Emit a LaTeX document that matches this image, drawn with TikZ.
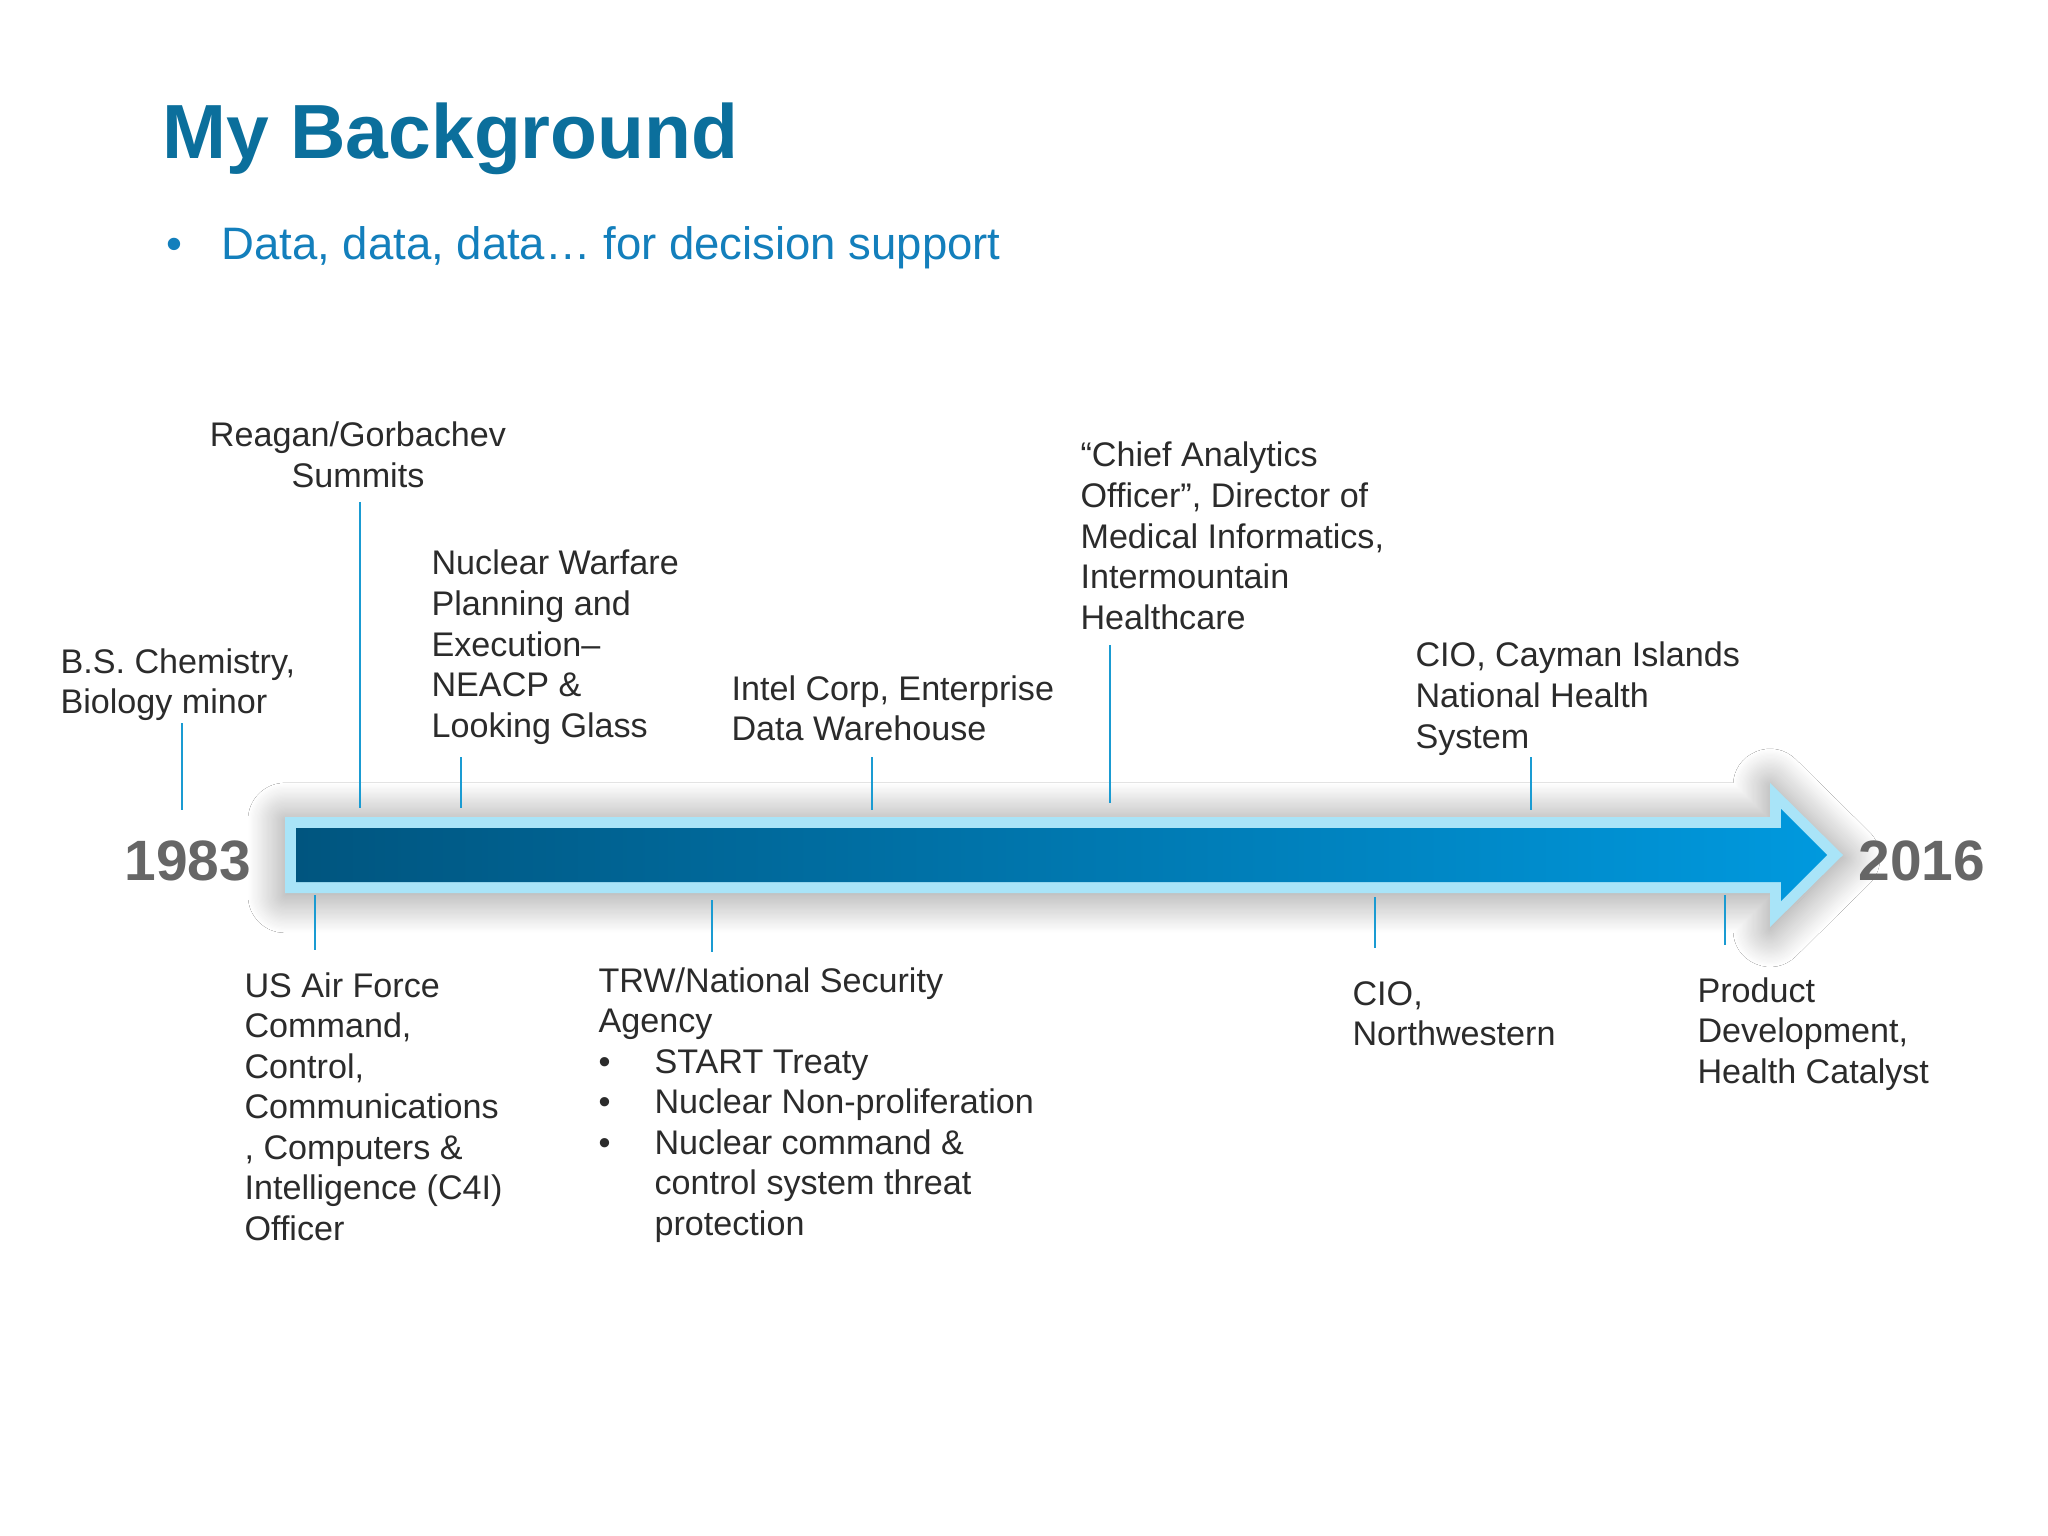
\documentclass[tikz,border=0pt]{standalone}
\usepackage{fontspec}
\setmainfont{Liberation Sans}
\usetikzlibrary{shadows.blur}
\definecolor{titleblue}{HTML}{0B6F9C}
\definecolor{subblue}{HTML}{137FBC}
\definecolor{txt}{HTML}{2B2B2B}
\definecolor{yeargray}{HTML}{666666}
\definecolor{tickblue}{HTML}{1A9BD2}
\definecolor{arrowrim}{HTML}{A9E4F8}
\definecolor{arrowdark}{HTML}{00557F}
\definecolor{arrowlight}{HTML}{0099DE}
\begin{document}
\begin{tikzpicture}[x=0.3515625pt,y=-0.3515625pt,
  evtext/.style={anchor=base west, inner sep=0pt, text=txt, font=\fontsize{12}{14.25}\selectfont},
  yeartext/.style={anchor=base west, inner sep=0pt, text=yeargray, font=\fontsize{20}{24}\selectfont\bfseries},
  tickline/.style={draw=tickblue, line width=1pt}]
\useasboundingbox[fill=white] (0,0) rectangle (2048,1536);

% title and subtitle
\node[anchor=base west, inner sep=0pt, text=titleblue, font=\fontsize{27}{32}\selectfont\bfseries] (title) at (162,159) {My Background};
\node[anchor=base west, inner sep=0pt, text=subblue, font=\fontsize{16}{19}\selectfont] (sub) at (166,260) {\makebox[19.3pt][l]{•}Data, data, data… for decision support};

% arrow
\fill[arrowrim, blur shadow={shadow xshift=0pt, shadow yshift=-1pt, shadow blur radius=13pt, shadow blur steps=30, shadow opacity=45}]
  (285,817) -- (1770,817) -- (1770,783) -- (1843,855) -- (1770,927) -- (1770,893) -- (285,893) -- cycle;
\shade[left color=arrowdark, right color=arrowlight]
  (296,828) -- (1781,828) -- (1781,809) -- (1827,855) -- (1781,901) -- (1781,882) -- (296,882) -- cycle;

% years
\node[yeartext] (y1983) at (124,880) {1983};
\node[yeartext] (y2016) at (1858,880) {2016};

% labels above
\node[evtext] (bs) at (60,673) {\begin{tabular}[t]{@{}l@{}}B.S. Chemistry,\\Biology minor\end{tabular}};
\node[evtext, anchor=base] (rg) at (358,447) {\begin{tabular}[t]{@{}c@{}}Reagan/Gorbachev\\Summits\end{tabular}};
\node[evtext] (nw) at (431,575) {\begin{tabular}[t]{@{}l@{}}Nuclear Warfare\\Planning and\\Execution–\\NEACP \&\\Looking Glass\end{tabular}};
\node[evtext] (intel) at (731,700) {\begin{tabular}[t]{@{}l@{}}Intel Corp, Enterprise\\Data Warehouse\end{tabular}};
\node[evtext] (cao) at (1080,467) {\begin{tabular}[t]{@{}l@{}}“Chief Analytics\\Officer”, Director of\\Medical Informatics,\\Intermountain\\Healthcare\end{tabular}};
\node[evtext] (cay) at (1415,667) {\begin{tabular}[t]{@{}l@{}}CIO, Cayman Islands\\National Health\\System\end{tabular}};

% labels below
\node[evtext] (usaf) at (244,997) {\begin{tabular}[t]{@{}l@{}}US Air Force\\Command,\\Control,\\Communications\\, Computers \&\\Intelligence (C4I)\\Officer\end{tabular}};
\node[evtext] (trw) at (598,992) {\begin{tabular}[t]{@{}l@{}l@{}}\multicolumn{2}{@{}l@{}}{TRW/National Security}\\\multicolumn{2}{@{}l@{}}{Agency}\\\makebox[19.7pt][l]{•}&START Treaty\\\makebox[19.7pt][l]{•}&Nuclear Non-proliferation\\\makebox[19.7pt][l]{•}&Nuclear command \&\\&control system threat\\&protection\end{tabular}};
\node[evtext] (nwu) at (1352,1005) {\begin{tabular}[t]{@{}l@{}}CIO,\\Northwestern\end{tabular}};
\node[evtext] (hc) at (1697,1002) {\begin{tabular}[t]{@{}l@{}}Product\\Development,\\Health Catalyst\end{tabular}};

% ticks
\coordinate (t1a) at (182,723);  \coordinate (t1b) at (182,810);
\coordinate (t2a) at (360,502);  \coordinate (t2b) at (360,808);
\coordinate (t3a) at (461,757);  \coordinate (t3b) at (461,808);
\coordinate (t4a) at (872,757);  \coordinate (t4b) at (872,810);
\coordinate (t5a) at (1110,645); \coordinate (t5b) at (1110,803);
\coordinate (t6a) at (1531,757); \coordinate (t6b) at (1531,810);
\coordinate (b1a) at (315,895);  \coordinate (b1b) at (315,950);
\coordinate (b2a) at (712,900);  \coordinate (b2b) at (712,952);
\coordinate (b3a) at (1375,897); \coordinate (b3b) at (1375,948);
\coordinate (b4a) at (1725,895); \coordinate (b4b) at (1725,945);
\foreach \s in {t1,t2,t3,t4,t5,t6,b1,b2,b3,b4} \draw[tickline] (\s a) -- (\s b);
\end{tikzpicture}
\end{document}
